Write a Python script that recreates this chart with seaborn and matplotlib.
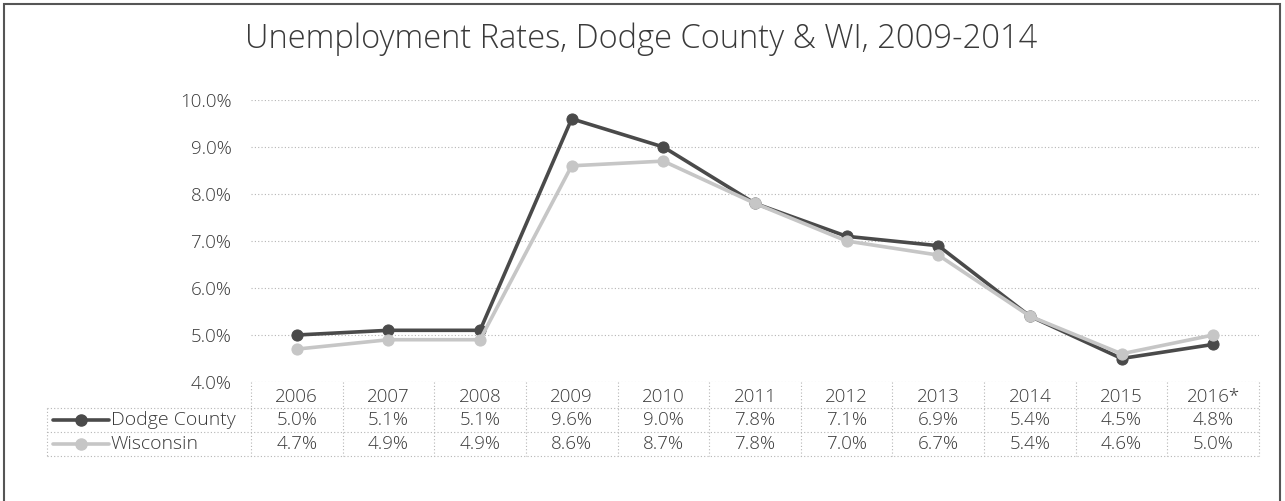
import pandas as pd
import matplotlib.pyplot as plt
import matplotlib.transforms as mtransforms
from matplotlib.patches import Rectangle
import seaborn as sns

# data
years = ['2006', '2007', '2008', '2009', '2010', '2011', '2012', '2013', '2014', '2015', '2016*']
dodge = [5.0, 5.1, 5.1, 9.6, 9.0, 7.8, 7.1, 6.9, 5.4, 4.5, 4.8]
wisconsin = [4.7, 4.9, 4.9, 8.6, 8.7, 7.8, 7.0, 6.7, 5.4, 4.6, 5.0]
series_names = ['Dodge County', 'Wisconsin']
series_colors = ['#4a4a4a', '#c6c6c6']
yticks = [4, 5, 6, 7, 8, 9, 10]

sns.set_style('white')
plt.rcParams['font.family'] = ['Open Sans', 'DejaVu Sans']
plt.rcParams['font.weight'] = 'light'

df = pd.DataFrame({
    'pos': list(range(len(years))) * 2,
    'rate': dodge + wisconsin,
    'series': [series_names[0]] * len(years) + [series_names[1]] * len(years),
})

fig = plt.figure(figsize=(12.85, 5.01), dpi=100)
ax = fig.add_axes([0.1953, 0.2375, 0.7845, 0.5629])

grid_col = '#b5b5b5'
dot = (0, (1, 2))
txt_col = '#3a3a3a'
fs = 13.5

# horizontal gridlines
for t in yticks:
    ax.axhline(t, color=grid_col, lw=0.8, ls=dot, zorder=0)

for name, col in zip(series_names, series_colors):
    sub = df[df['series'] == name]
    sns.lineplot(data=sub, x='pos', y='rate', color=col, linewidth=2.6,
                 marker='o', markersize=8, markeredgecolor=col, ax=ax, zorder=3)

ax.set_xlim(-0.5, len(years) - 0.5)
ax.set_ylim(4, 10)
ax.set_yticks(yticks)
ax.set_yticklabels([f'{t:.1f}%' for t in yticks], fontsize=fs, color=txt_col)
ax.tick_params(axis='y', length=0, pad=14)
ax.set_xticks([])
ax.set_xlabel('')
ax.set_ylabel('')
sns.despine(ax=ax, left=True, bottom=True)

# data table below the plot
trans = mtransforms.blended_transform_factory(ax.transData, ax.transAxes)
legend_left = -2.73
row_lines = [-0.092, -0.177, -0.262]
row_text = [-0.053, -0.136, -0.219]

for ypos in row_lines:
    ax.plot([legend_left, len(years) - 0.5], [ypos, ypos], transform=trans,
            color=grid_col, lw=0.8, ls=dot, clip_on=False)
for i in range(len(years) + 1):
    ax.plot([i - 0.5, i - 0.5], [0, row_lines[-1]], transform=trans,
            color=grid_col, lw=0.8, ls=dot, clip_on=False)
ax.plot([legend_left, legend_left], [row_lines[0], row_lines[-1]], transform=trans,
        color=grid_col, lw=0.8, ls=dot, clip_on=False)

for i, yr in enumerate(years):
    ax.text(i, row_text[0], yr, transform=trans, ha='center', va='center',
            fontsize=fs, color=txt_col)
    ax.text(i, row_text[1], f'{dodge[i]:.1f}%', transform=trans, ha='center',
            va='center', fontsize=fs, color=txt_col)
    ax.text(i, row_text[2], f'{wisconsin[i]:.1f}%', transform=trans, ha='center',
            va='center', fontsize=fs, color=txt_col)

# legend keys inside the table
for k, (name, col) in enumerate(zip(series_names, series_colors)):
    yk = row_text[k + 1]
    ax.plot([-2.66, -2.05], [yk, yk], transform=trans, color=col, lw=2.6, clip_on=False)
    ax.plot([-2.355], [yk], transform=trans, color=col, marker='o', markersize=8,
            clip_on=False)
    ax.text(-2.03, yk, name, transform=trans, ha='left', va='center',
            fontsize=14, color=txt_col)

fig.text(0.499, 0.922, 'Unemployment Rates, Dodge County & WI, 2009-2014',
         ha='center', va='center', fontsize=23.5, color=txt_col)

# outer chart border
fig.patches.append(Rectangle((0.003, -0.02), 0.993, 1.012, transform=fig.transFigure,
                             fill=False, edgecolor='#555555', lw=1.5))

fig.savefig('out.png', dpi=100)
